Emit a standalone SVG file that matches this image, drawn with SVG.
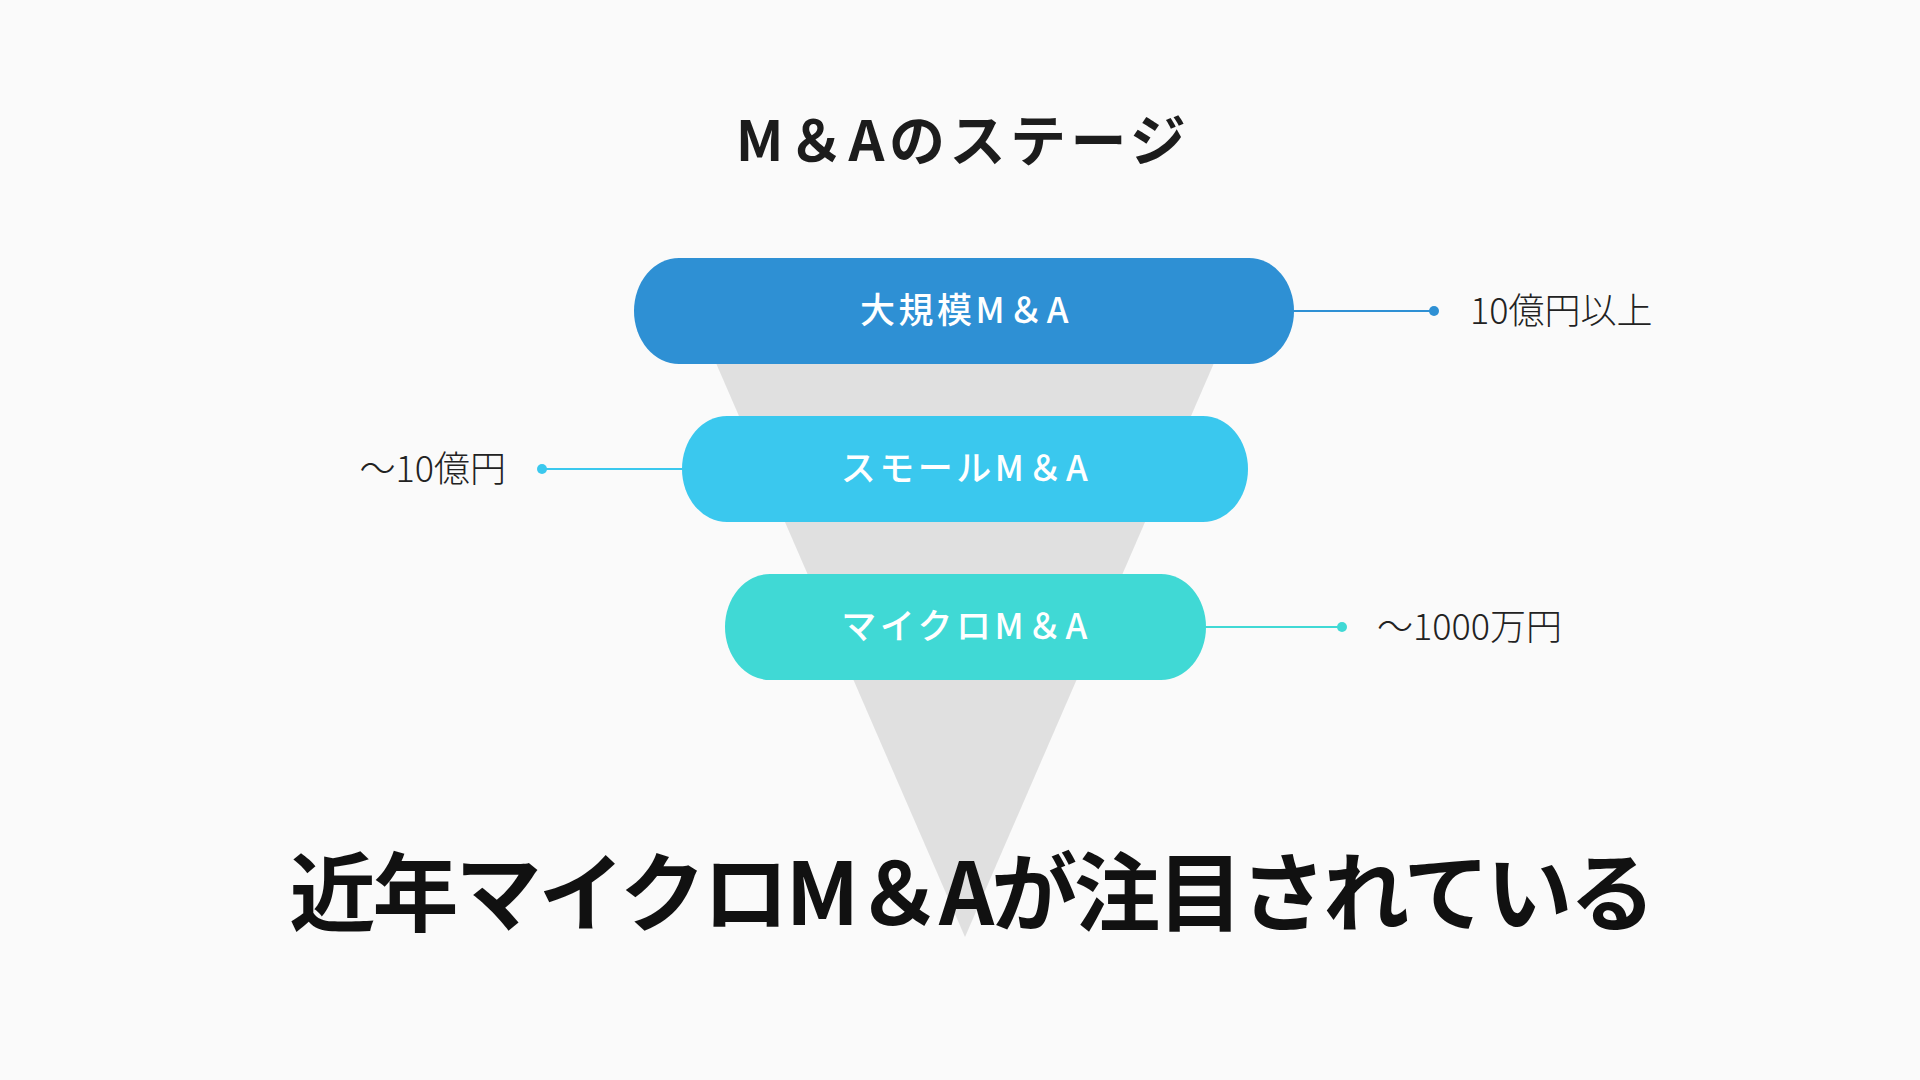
<svg xmlns="http://www.w3.org/2000/svg" width="1920" height="1080" viewBox="0 0 1920 1080">
<style>
.t{font-family:"Noto Sans CJK JP","Noto Sans",sans-serif;}
.title{font-size:56px;font-weight:700;fill:#1c1c1c;letter-spacing:4.5px;}
.pill{font-size:35px;font-weight:500;fill:#ffffff;letter-spacing:3.5px;}
.lab{font-size:36px;font-weight:300;fill:#222222;}
.big{font-size:86px;font-weight:700;fill:#111111;letter-spacing:-3px;}
.c1{stroke:#2e90d4;stroke-width:2;fill:none;}
.c2{stroke:#3ac8ee;stroke-width:2;fill:none;}
.c3{stroke:#40d9d5;stroke-width:2;fill:none;}
</style>
<rect width="1920" height="1080" fill="#fafafa"/>
<polygon id="funnel" points="680,280 1250,280 965,937" fill="#e0e0e0"/>
<text class="t title" x="963" y="161" text-anchor="middle">M＆Aのステージ</text>
<g id="connectors">
<line class="c1" x1="1290" y1="311" x2="1434" y2="311"/>
<circle cx="1434" cy="311" r="5" fill="#2e90d4"/>
<line class="c2" x1="542" y1="469" x2="690" y2="469"/>
<circle cx="542" cy="469" r="5" fill="#3ac8ee"/>
<line class="c3" x1="1200" y1="627" x2="1342" y2="627"/>
<circle cx="1342" cy="627" r="5" fill="#40d9d5"/>
</g>
<g id="stage1">
<rect x="634" y="258" width="660" height="106" rx="45" ry="53" fill="#2e90d4"/>
<text class="t pill" x="966" y="323" text-anchor="middle">大規模M＆A</text>
</g>
<g id="stage2">
<rect x="682" y="416" width="566" height="106" rx="45" ry="53" fill="#3ac8ee"/>
<text class="t pill" x="966" y="481" text-anchor="middle">スモールM＆A</text>
</g>
<g id="stage3">
<rect x="725" y="574" width="481" height="106" rx="45" ry="53" fill="#40d9d5"/>
<text class="t pill" x="966" y="639" text-anchor="middle">マイクロM＆A</text>
</g>
<g id="label1"><text class="t lab" x="1470" y="324">10億円以上</text></g>
<g id="label2"><text class="t lab" x="506" y="482" text-anchor="end">～10億円</text></g>
<g id="label3"><text class="t lab" x="1377" y="640">～1000万円</text></g>
<text class="t big" x="971" y="925" text-anchor="middle">近年マイクロM＆Aが注目されている</text>
</svg>
